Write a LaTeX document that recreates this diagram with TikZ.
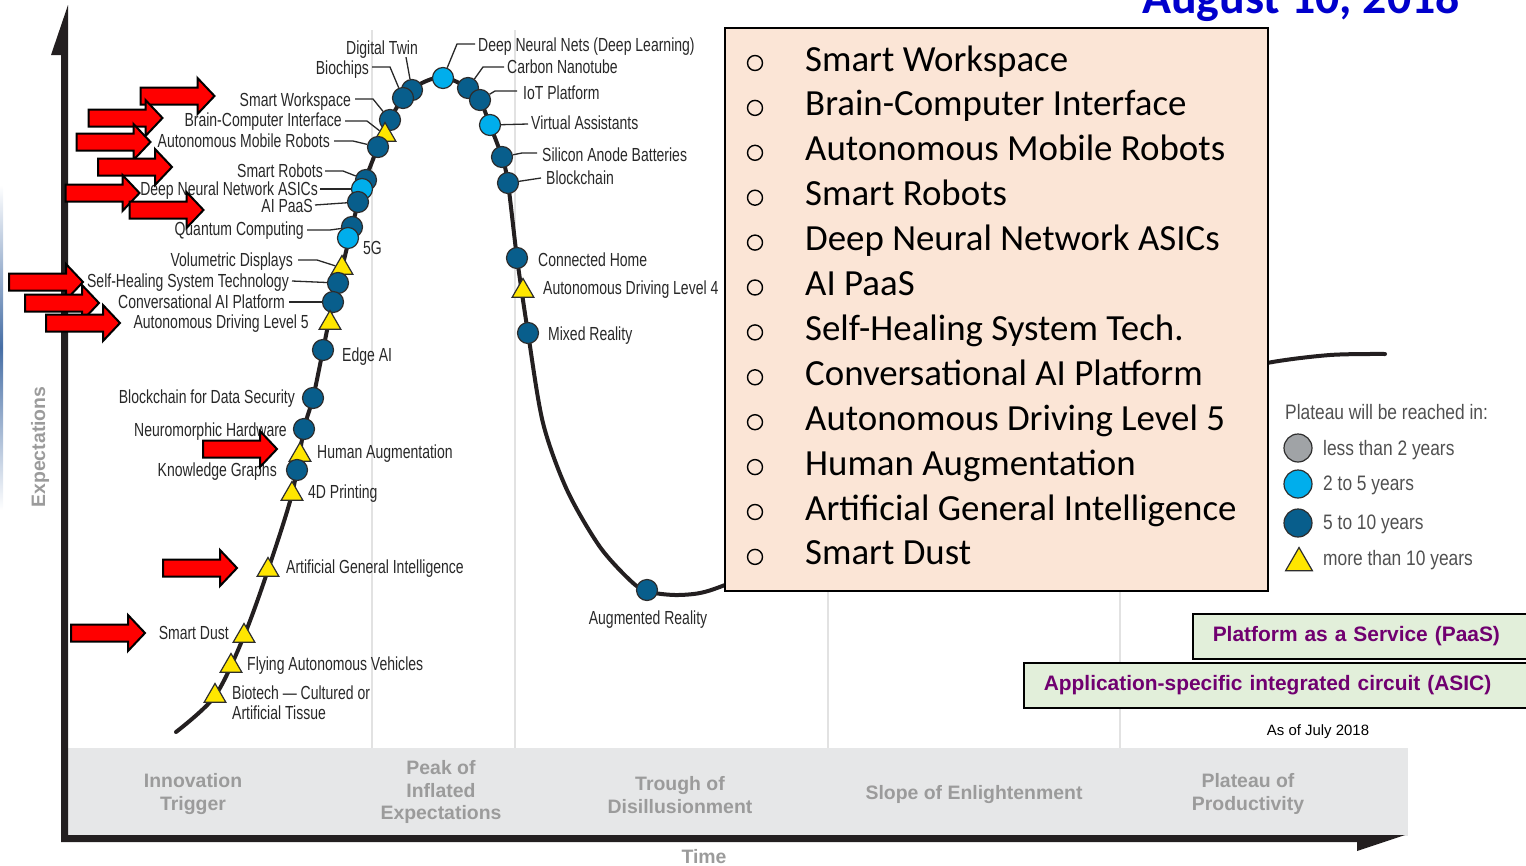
\documentclass[tikz,border=0pt]{standalone}
\usepackage{fontspec}
\usetikzlibrary{shapes.geometric}
\newfontfamily\gfont[FakeStretch=0.74]{Liberation Sans}
\newfontfamily\lgfont[FakeStretch=0.83]{Liberation Sans}
\newfontfamily\phfont{Liberation Sans}
\newfontfamily\cfont{Carlito}
\definecolor{dkblue}{RGB}{8,94,140}
\definecolor{ltblue}{RGB}{0,174,236}
\definecolor{ylw}{RGB}{255,230,0}
\definecolor{mkgray}{RGB}{160,163,166}
\definecolor{mkline}{RGB}{45,45,45}
\definecolor{curvecol}{RGB}{35,31,32}
\definecolor{gridcol}{RGB}{226,226,226}
\definecolor{bandcol}{RGB}{230,231,232}
\definecolor{phasecol}{RGB}{155,155,155}
\definecolor{pinkbox}{RGB}{251,229,214}
\definecolor{greenbox}{RGB}{226,239,218}
\definecolor{plum}{RGB}{112,0,112}
\definecolor{titleblue}{RGB}{0,0,204}
\definecolor{lblcol}{RGB}{40,40,40}
\definecolor{lgdcol}{RGB}{80,80,80}
\definecolor{leftblue}{RGB}{70,110,165}
\tikzset{redarrow/.pic={\draw[black,line width=2bp,fill=red,line join=miter] (-37,-8.5) -- (20,-8.5) -- (20,-18) -- (37,0) -- (20,18) -- (20,8.5) -- (-37,8.5) -- cycle;}}

\begin{document}
\begin{tikzpicture}[x=1bp,y=-1bp,
  lbl/.style={font=\gfont\fontsize{19}{20}\selectfont,text=lblcol,inner sep=0pt,text height=14bp,text depth=0pt},
  lead/.style={draw=lblcol,line width=1.3bp},
  mk/.style={circle,draw=mkline,line width=1.2bp,minimum size=21bp,inner sep=0pt},
  dk/.style={mk,fill=dkblue},
  lt/.style={mk,fill=ltblue},
  gr/.style={mk,fill=mkgray},
  tri/.style={regular polygon,regular polygon sides=3,draw=mkline,line width=1.2bp,fill=ylw,minimum size=25bp,inner sep=0pt},
  phase/.style={font=\phfont\bfseries\fontsize{19.5}{23}\selectfont,text=phasecol,align=center,inner sep=0pt},
  item/.style={font=\cfont\fontsize{37}{40}\selectfont,anchor=base west,inner sep=0pt},
  bul/.style={circle,draw=black,line width=1.4bp,minimum size=15bp,inner sep=0pt},
  lgd/.style={font=\lgfont\fontsize{21}{23}\selectfont,text=lgdcol,inner sep=0pt,text height=15bp,text depth=0pt,anchor=west},
  gbox/.style={draw=black,line width=1.5bp,fill=greenbox,text=plum,font=\phfont\bfseries\fontsize{21}{23}\selectfont,minimum height=45bp,inner xsep=20bp,inner ysep=0pt,align=left,anchor=west}]
\useasboundingbox (0,0) rectangle (1526,865);

\shade[top color=white,bottom color=white,middle color=leftblue] (0,185) rectangle (3,510);

% phases band and grid
\fill[bandcol] (66,748) rectangle (1408,836);
\draw[gridcol,line width=1.5bp] (372,30) -- (372,748);
\draw[gridcol,line width=1.5bp] (515,30) -- (515,748);
\draw[gridcol,line width=1.5bp] (828,30) -- (828,748);
\draw[gridcol,line width=1.5bp] (1120,30) -- (1120,748);

% axes
\fill[curvecol] (68,5) -- (51,55) -- (61,55) -- (61,842) -- (1357,842) -- (1357,851) -- (1405,835) -- (68,835) -- cycle;

\node[phase] (ph1) at (193,794) {Innovation\\Trigger};
\node[phase] (ph2) at (441,792) {Peak of\\Inflated\\Expectations};
\node[phase] (ph3) at (680,795) {Trough of\\Disillusionment};
\node[phase] (ph4) at (974,795) {Slope of Enlightenment};
\node[phase] (ph5) at (1248,794) {Plateau of\\Productivity};
\node[phase] (time) at (704,857) {Time};
\node[phase,rotate=90] (expect) at (40,447) {Expectations};
\node[font=\phfont\fontsize{15}{17}\selectfont,inner sep=0pt] (asof) at (1318,732) {As of July 2018};

% hype curve
\draw[curvecol,line width=4bp,line cap=round] plot[smooth] coordinates {(176,732) (215,696) (244,636) (268,570) (292,494) (304,429) (313,398) (323,350) (333,302) (342,268) (352,227) (362,189) (378,147) (390,120) (403,98) (420,84) (443,77) (468,88) (480,100) (490,125) (502,157) (508,183) (517,258) (528,333) (543,423) (567,490) (600,547) (633,583) (650,592) (675,595) (700,593) (725,585) (800,555) (1000,455) (1200,380) (1267,363) (1330,355) (1385,354)};

% list box
\node[draw=black,fill=pinkbox,line width=2bp,minimum width=543bp,minimum height=563bp,anchor=north west,inner sep=0pt] (pbox) at (724,27) {};
\foreach \t [count=\i from 0] in {Smart Workspace,Brain-Computer Interface,Autonomous Mobile Robots,Smart Robots,Deep Neural Network ASICs,AI PaaS,Self-Healing System Tech.,Conversational AI Platform,Autonomous Driving Level 5,Human Augmentation,Artificial General Intelligence,Smart Dust}{
  \node[bul] (b\i) at (755,{63+44.9*\i}) {};
  \node[item] (it\i) at (805,{71+44.9*\i}) {\t};
}

% markers, rising side
\node[dk] (mdt) at (412,90) {};
\node[dk] (mbio) at (403,98) {};
\node[dk] (msw) at (390,120) {};
\node[tri] (mbci) at (385,135) {};
\node[dk] (mamr) at (378,147) {};
\node[dk] (msr) at (366,180) {};
\node[lt] (masic) at (362,189) {};
\node[dk] (mpaas) at (358,202) {};
\node[dk] (mqc) at (352,227) {};
\node[lt] (m5g) at (348,238) {};
\node[tri] (mvol) at (342,268) {};
\node[dk] (mshs) at (338,283) {};
\node[dk] (mcai) at (333,302) {};
\node[tri] (mad5) at (330,323) {};
\node[dk] (medge) at (323,350) {};
\node[dk] (mbds) at (313,398) {};
\node[dk] (mneu) at (304,429) {};
\node[tri] (mha) at (300,455) {};
\node[dk] (mkg) at (297,470) {};
\node[tri] (m4d) at (292,494) {};
\node[tri] (magi) at (268,570) {};
\node[tri] (mdust) at (244,636) {};
\node[tri] (mfav) at (231,666) {};
\node[tri] (mtis) at (215,696) {};
% markers, falling side
\node[lt] (mdnn) at (443,78) {};
\node[dk] (mcnt) at (468,88) {};
\node[dk] (miot) at (480,100) {};
\node[lt] (mva) at (490,125) {};
\node[dk] (msab) at (502,157) {};
\node[dk] (mbc) at (508,183) {};
\node[dk] (mch) at (517,258) {};
\node[tri] (mad4) at (523,291) {};
\node[dk] (mmr) at (528,333) {};
\node[dk] (mar) at (647,590) {};

% labels
\node[lbl] (ldt) at (382,47) {Digital Twin};
\node[lbl,anchor=east] (lbio) at (369,67) {Biochips};
\node[lbl,anchor=east] (lsw) at (351,99) {Smart Workspace};
\node[lbl,anchor=east] (lbci) at (342,119) {Brain-Computer Interface};
\node[lbl,anchor=east] (lamr) at (330,140) {Autonomous Mobile Robots};
\node[lbl,anchor=east] (lsr) at (323,170) {Smart Robots};
\node[lbl,anchor=east] (lasic) at (318,188) {Deep Neural Network ASICs};
\node[lbl,anchor=east] (lpaas) at (313,205) {AI PaaS};
\node[lbl,anchor=east] (lqc) at (304,228) {Quantum Computing};
\node[lbl,anchor=west] (l5g) at (363,247) {5G};
\node[lbl,anchor=east] (lvol) at (293,259) {Volumetric Displays};
\node[lbl,anchor=east] (lshs) at (289,280) {Self-Healing System Technology};
\node[lbl,anchor=east] (lcai) at (285,301) {Conversational AI Platform};
\node[lbl,anchor=east] (lad5) at (309,321) {Autonomous Driving Level 5};
\node[lbl,anchor=west] (ledge) at (342,354) {Edge AI};
\node[lbl,anchor=east] (lbds) at (295,396) {Blockchain for Data Security};
\node[lbl,anchor=east] (lneu) at (287,429) {Neuromorphic Hardware};
\node[lbl,anchor=west] (lha) at (317,451) {Human Augmentation};
\node[lbl,anchor=east] (lkg) at (277,469) {Knowledge Graphs};
\node[lbl,anchor=west] (l4d) at (308,491) {4D Printing};
\node[lbl,anchor=west] (lagi) at (286,566) {Artificial General Intelligence};
\node[lbl,anchor=east] (ldust) at (229,632) {Smart Dust};
\node[lbl,anchor=west] (lfav) at (247,663) {Flying Autonomous Vehicles};
\node[lbl,text height=,anchor=north west,align=left] (ltis) at (232,686) {Biotech — Cultured or\\Artificial Tissue};
\node[lbl,anchor=west] (ldnn) at (478,44) {Deep Neural Nets (Deep Learning)};
\node[lbl,anchor=west] (lcnt) at (507,66) {Carbon Nanotube};
\node[lbl,anchor=west] (liot) at (523,92) {IoT Platform};
\node[lbl,anchor=west] (lva) at (531,122) {Virtual Assistants};
\node[lbl,anchor=west] (lsab) at (542,154) {Silicon Anode Batteries};
\node[lbl,anchor=west] (lbc) at (546,177) {Blockchain};
\node[lbl,anchor=west] (lch) at (538,259) {Connected Home};
\node[lbl,anchor=west] (lad4) at (543,287) {Autonomous Driving Level 4};
\node[lbl,anchor=west] (lmr) at (548,333) {Mixed Reality};
\node[lbl] (lar) at (648,617) {Augmented Reality};

% leaders
\draw[lead] (ldt.south east) ++(-12,3) -- (mdt);
\draw[lead] (lbio.east) ++(3,0) -- ++(18,0) -- (mbio);
\draw[lead] (lsw.east) ++(4,0) -- ++(18,0) -- (msw);
\draw[lead] (lbci.east) ++(3,2) -- ++(22,0) -- (mbci);
\draw[lead] (lamr.east) ++(4,1) -- ++(19,0) -- (mamr);
\draw[lead] (lsr.east) ++(2,1) -- ++(18,0) -- (msr);
\draw[lead] (lasic.east) ++(2,1) -- (masic);
\draw[lead] (lpaas.east) ++(2,0) -- (mpaas);
\draw[lead] (lqc.east) ++(3,2) -- ++(23,0) -- (mqc);
\draw[lead] (lvol.east) ++(5,1) -- ++(19,0) -- (mvol);
\draw[lead] (lshs.east) ++(3,1) -- (mshs);
\draw[lead] (lcai.east) ++(4,1) -- (mcai);
\draw[lead] (ldnn.west) ++(-3,0) -- ++(-18,0) -- (mdnn);
\draw[lead] (lcnt.west) ++(-3,1) -- ++(-21,0) -- (mcnt);
\draw[lead] (liot.west) ++(-6,-1) -- ++(-22,0) -- (miot);
\draw[lead] (lva.west) ++(-3,2) -- (mva);
\draw[lead] (lsab.west) ++(-5,-1) -- ++(-15,0) -- (msab);
\draw[lead] (lbc.west) ++(-5,1) -- (mbc);

% legend
\node[lgd] (lgt) at (1285,412) {Plateau will be reached in:};
\node[gr,minimum size=28bp] (lg1) at (1298,448) {};
\node[lt,minimum size=28bp] (lg2) at (1298,484) {};
\node[dk,minimum size=28bp] (lg3) at (1298,523) {};
\node[tri,minimum size=31bp] (lg4) at (1299,563) {};
\node[lgd] (lgt1) at (1323,448) {less than 2 years};
\node[lgd] (lgt2) at (1323,483) {2 to 5 years};
\node[lgd] (lgt3) at (1323,522) {5 to 10 years};
\node[lgd] (lgt4) at (1323,558) {more than 10 years};

% acronym boxes
\node[gbox,text width=320bp] (paas) at (1192,636.5) {Platform as a Service (PaaS)};
\node[gbox,text width=500bp] (asic) at (1023,685.5) {Application-specific integrated circuit (ASIC)};

\node[font=\cfont\bfseries\fontsize{48}{50}\selectfont,text=titleblue,anchor=base west,inner sep=0pt] (title) at (1142,13) {August 10, 2018};

% red arrows
\pic (a1) at (177.5,96) {redarrow};
\pic (a2) at (125.5,118) {redarrow};
\pic (a3) at (113.5,142) {redarrow};
\pic (a4) at (135,167) {redarrow};
\pic (a5) at (102.5,193) {redarrow};
\pic (a6) at (166.5,210) {redarrow};
\pic (a7) at (46,282) {redarrow};
\pic (a8) at (62,303) {redarrow};
\pic (a9) at (83,323) {redarrow};
\pic (a10) at (240,449) {redarrow};
\pic (a11) at (200,568) {redarrow};
\pic (a12) at (108,633) {redarrow};
\end{tikzpicture}
\end{document}
